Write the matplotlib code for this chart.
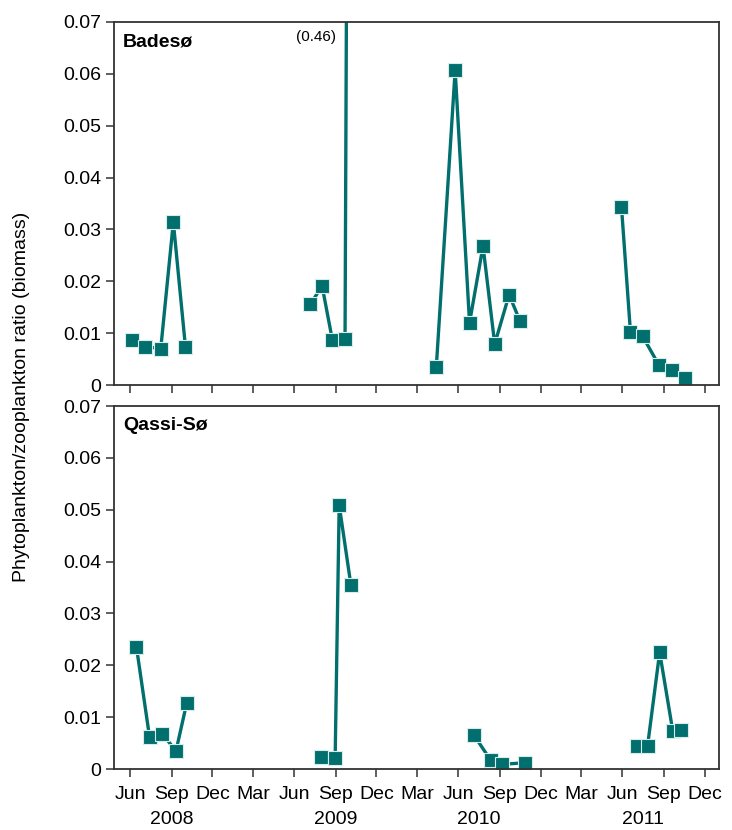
import matplotlib
matplotlib.use("Agg")
import matplotlib.pyplot as plt
import matplotlib.dates as mdates
import numpy as np
from datetime import datetime

# ---------------- data ----------------
bades_2008_dates = ["2008-06-05", "2008-07-05", "2008-08-08", "2008-09-05", "2008-10-02"]
bades_2008_vals = [0.0086, 0.0074, 0.0070, 0.0314, 0.0073]
bades_2009_dates = ["2009-07-07", "2009-08-02", "2009-08-25", "2009-09-22", "2009-10-14"]
bades_2009_vals = [0.0156, 0.0191, 0.0086, 0.0088, 0.46]
bades_2010_dates = ["2010-04-13", "2010-05-25", "2010-06-26", "2010-07-26", "2010-08-21",
                    "2010-09-22", "2010-10-16"]
bades_2010_vals = [0.0034, 0.0607, 0.0120, 0.0268, 0.0079, 0.0174, 0.0124]
bades_2011_dates = ["2011-05-30", "2011-06-19", "2011-07-16", "2011-08-21", "2011-09-20",
                    "2011-10-18"]
bades_2011_vals = [0.0344, 0.0102, 0.0094, 0.0039, 0.0029, 0.0014]

qassi_2008_dates = ["2008-06-15", "2008-07-14", "2008-08-11", "2008-09-11", "2008-10-05"]
qassi_2008_vals = [0.0235, 0.0062, 0.0068, 0.0035, 0.0128]
qassi_2009_dates = ["2009-07-31", "2009-08-31", "2009-09-09", "2009-10-05"]
qassi_2009_vals = [0.0023, 0.0021, 0.0509, 0.0355]
qassi_2010_dates = ["2010-07-06", "2010-08-12", "2010-09-06", "2010-10-27"]
qassi_2010_vals = [0.0065, 0.0017, 0.0009, 0.0012]
qassi_2011_dates = ["2011-07-03", "2011-07-27", "2011-08-23", "2011-09-21", "2011-10-09"]
qassi_2011_vals = [0.0044, 0.0044, 0.0225, 0.0074, 0.0075]

month_ticks = ["2008-06-01", "2008-09-01", "2008-12-01", "2009-03-01", "2009-06-01",
               "2009-09-01", "2009-12-01", "2010-03-01", "2010-06-01", "2010-09-01",
               "2010-12-01", "2011-03-01", "2011-06-01", "2011-09-01", "2011-12-01"]
month_labels = ["Jun", "Sep", "Dec", "Mar", "Jun", "Sep", "Dec", "Mar", "Jun", "Sep",
                "Dec", "Mar", "Jun", "Sep", "Dec"]
year_labels = ["2008", "2009", "2010", "2011"]
year_label_pos = ["2008-09-01", "2009-09-01", "2010-07-16", "2011-07-16"]

y_ticks = [0, 0.01, 0.02, 0.03, 0.04, 0.05, 0.06, 0.07]
y_ticklabels = ["0", "0.01", "0.02", "0.03", "0.04", "0.05", "0.06", "0.07"]

# ---------------- style ----------------
plt.rcParams['font.family'] = ['Liberation Sans', 'DejaVu Sans']
teal = "#006f6d"
spine_col = "#333333"

def d(lst):
    return [datetime.strptime(s, "%Y-%m-%d") for s in lst]

fig = plt.figure(figsize=(7.32, 8.30), dpi=100)
W, H = 732, 830
ax1 = fig.add_axes([114 / W, 1 - 385 / H, (719 - 114) / W, (385 - 22) / H])
ax2 = fig.add_axes([114 / W, 1 - 769 / H, (719 - 114) / W, (769 - 406) / H])

xlim = (datetime(2008, 4, 26), datetime(2012, 1, 2))

def draw(ax, series):
    for dates, vals in series:
        ax.plot(d(dates), vals, color=teal, lw=2.4, marker="s", ms=9.5,
                mfc=teal, mec="#d8ecea", mew=0.8, solid_capstyle="butt", clip_on=True)

draw(ax1, [(bades_2008_dates, bades_2008_vals), (bades_2009_dates, bades_2009_vals),
           (bades_2010_dates, bades_2010_vals), (bades_2011_dates, bades_2011_vals)])
draw(ax2, [(qassi_2008_dates, qassi_2008_vals), (qassi_2009_dates, qassi_2009_vals),
           (qassi_2010_dates, qassi_2010_vals), (qassi_2011_dates, qassi_2011_vals)])

for ax in (ax1, ax2):
    ax.set_xlim(xlim)
    ax.set_ylim(0, 0.07)
    ax.set_yticks(y_ticks)
    ax.set_yticklabels(y_ticklabels, fontsize=14)
    ax.set_xticks(d(month_ticks))
    for sp in ax.spines.values():
        sp.set_color(spine_col)
        sp.set_linewidth(1.3)
    ax.tick_params(axis="both", direction="out", length=6, width=1.1, color=spine_col,
                   labelsize=14, pad=3)

ax1.set_xticklabels([])
ax2.set_xticklabels(month_labels, fontsize=14)
ax2.tick_params(axis="x", pad=6)

for lab, pos in zip(year_labels, d(year_label_pos)):
    ax2.annotate(lab, xy=(mdates.date2num(pos), 0), xycoords=("data", "axes fraction"),
                 xytext=(0, -36.5), textcoords="offset points", ha="center", va="center",
                 fontsize=14)

ax1.text(0.0145, 0.945, "Badesø", transform=ax1.transAxes, fontsize=14, fontweight="bold",
         ha="left", va="center")
ax2.text(0.0145, 0.945, "Qassi-Sø", transform=ax2.transAxes, fontsize=14, fontweight="bold",
         ha="left", va="center")

# label for the off-scale value
off_idx = int(np.argmax(bades_2009_vals))
ax1.text(0.367, 0.96, "({:.2f})".format(bades_2009_vals[off_idx]),
         transform=ax1.transAxes, fontsize=11, ha="right", va="center")

fig.text(22 / W, 1 - 397 / H, "Phytoplankton/zooplankton ratio (biomass)", rotation=90,
         ha="center", va="center", fontsize=14)

fig.savefig("out.png", dpi=100)
